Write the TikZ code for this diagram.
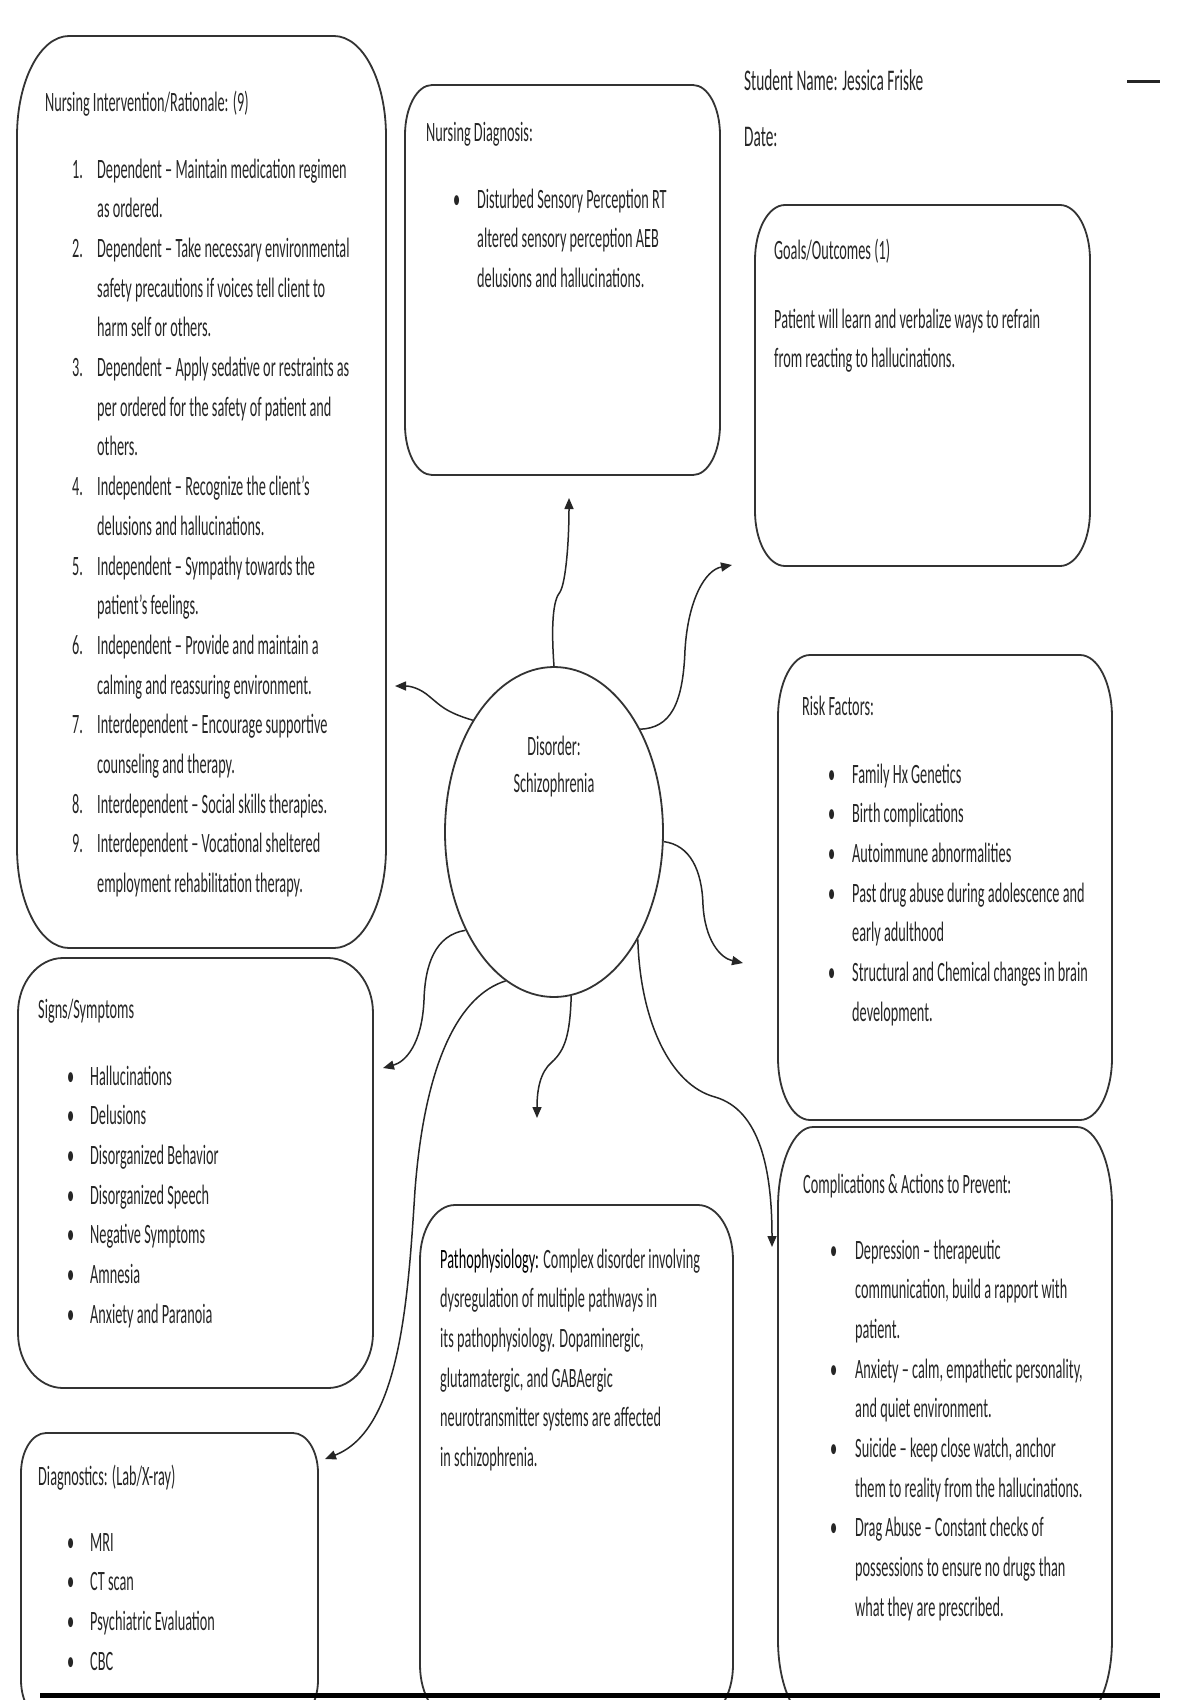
\documentclass[tikz,border=0pt]{standalone}
\usepackage{fontspec}
\setmainfont{Carlito}[FakeStretch=0.51]
\usetikzlibrary{shapes.geometric,arrows.meta}
\newcommand\rrbox[6]{%
  \draw[boxline] (#1,#2+#6) arc[start angle=180,end angle=270,x radius=#5,y radius=#6]
    -- (#3-#5,#2) arc[start angle=270,end angle=360,x radius=#5,y radius=#6]
    -- (#3,#4-#6) arc[start angle=0,end angle=90,x radius=#5,y radius=#6]
    -- (#1+#5,#4) arc[start angle=90,end angle=180,x radius=#5,y radius=#6] -- cycle;}
\newcommand\ind[1]{\makebox[#1][l]{}}
\tikzset{
  boxline/.style={draw=black!80, line width=1.8pt},
  txt/.style={anchor=base west, inner sep=0pt, text=black!85, font=\fontsize{28}{39.7}\selectfont},
  hdr/.style={anchor=base west, inner sep=0pt, text=black!85, font=\fontsize{30}{40}\selectfont},
  conn/.style={draw=black!85, line width=1.5pt, -{Triangle[length=11pt,width=9pt]}},
}
\begin{document}
\begin{tikzpicture}[x=1pt,y=-1pt]
\useasboundingbox (0,0) rectangle (1200,1700);
\fill[white] (0,0) rectangle (1200,1700);
\clip (0,0) rectangle (1200,1700);

% boxes
\rrbox{17}{36}{386}{948}{52}{100}
\rrbox{405}{85}{720}{475}{27}{50}
\rrbox{755}{205}{1090}{566}{30}{55}
\rrbox{778}{655}{1112}{1120}{32}{62}
\rrbox{778}{1127}{1112}{1720}{35}{80}
\rrbox{18}{958}{373}{1388}{45}{55}
\rrbox{21}{1433}{318}{1720}{25}{40}
\rrbox{420}{1205}{733}{1720}{35}{55}

% header
\node[hdr] (sname) at (744,90) {Student Name: Jessica Friske};
\node[hdr] (sdate) at (744,146) {Date:};
\draw[black!85, line width=3pt] (1127,81) -- (1160,81);

% central ellipse
\node[ellipse, draw=black!80, line width=1.8pt, minimum width=218pt, minimum height=330pt, inner sep=0pt] (dis) at (554,832) {};
\node[txt, anchor=base] (distxt) at (554,755) {\begin{tabular}[t]{@{}c@{}}Disorder:\\[-2pt] Schizophrenia\end{tabular}};

% Nursing intervention
\node[txt] (nit) at (45,111) {Nursing Intervention/Rationale: (9)};
\node[txt] (nil) at (72,178) {\begin{tabular}[t]{@{}l@{}}
\makebox[25pt][l]{1.}Dependent – Maintain medication regimen\\
\ind{25pt}as ordered.\\
\makebox[25pt][l]{2.}Dependent – Take necessary environmental\\
\ind{25pt}safety precautions if voices tell client to\\
\ind{25pt}harm self or others.\\
\makebox[25pt][l]{3.}Dependent – Apply sedative or restraints as\\
\ind{25pt}per ordered for the safety of patient and\\
\ind{25pt}others.\\
\makebox[25pt][l]{4.}Independent – Recognize the client’s\\
\ind{25pt}delusions and hallucinations.\\
\makebox[25pt][l]{5.}Independent – Sympathy towards the\\
\ind{25pt}patient’s feelings.\\
\makebox[25pt][l]{6.}Independent – Provide and maintain a\\
\ind{25pt}calming and reassuring environment.\\
\makebox[25pt][l]{7.}Interdependent – Encourage supportive\\
\ind{25pt}counseling and therapy.\\
\makebox[25pt][l]{8.}Interdependent – Social skills therapies.\\
\makebox[25pt][l]{9.}Interdependent – Vocational sheltered\\
\ind{25pt}employment rehabilitation therapy.
\end{tabular}};

% Nursing diagnosis
\node[txt] (ndt) at (426,141) {Nursing Diagnosis:};
\node[txt] (ndl) at (453,208) {\begin{tabular}[t]{@{}l@{}}
\makebox[24pt][l]{•}Disturbed Sensory Perception RT\\
\ind{24pt}altered sensory perception AEB\\
\ind{24pt}delusions and hallucinations.
\end{tabular}};

% Goals
\node[txt] (got) at (774,259) {Goals/Outcomes (1)};
\node[txt] (gol) at (774,328) {\begin{tabular}[t]{@{}l@{}}
Patient will learn and verbalize ways to refrain\\
from reacting to hallucinations.
\end{tabular}};

% Risk factors
\node[txt] (rft) at (802,715) {Risk Factors:};
\node[txt] (rfl) at (828,783) {\begin{tabular}[t]{@{}l@{}}
\makebox[24pt][l]{•}Family Hx Genetics\\
\makebox[24pt][l]{•}Birth complications\\
\makebox[24pt][l]{•}Autoimmune abnormalities\\
\makebox[24pt][l]{•}Past drug abuse during adolescence and\\
\ind{24pt}early adulthood\\
\makebox[24pt][l]{•}Structural and Chemical changes in brain\\
\ind{24pt}development.
\end{tabular}};

% Complications
\node[txt] (cot) at (803,1193) {Complications \& Actions to Prevent:};
\node[txt] (col) at (830,1259) {\begin{tabular}[t]{@{}l@{}}
\makebox[25pt][l]{•}Depression – therapeutic\\
\ind{25pt}communication, build a rapport with\\
\ind{25pt}patient.\\
\makebox[25pt][l]{•}Anxiety – calm, empathetic personality,\\
\ind{25pt}and quiet environment.\\
\makebox[25pt][l]{•}Suicide – keep close watch, anchor\\
\ind{25pt}them to reality from the hallucinations.\\
\makebox[25pt][l]{•}Drag Abuse – Constant checks of\\
\ind{25pt}possessions to ensure no drugs than\\
\ind{25pt}what they are prescribed.
\end{tabular}};

% Signs / symptoms
\node[txt] (sst) at (38,1018) {Signs/Symptoms};
\node[txt] (ssl) at (67,1085) {\begin{tabular}[t]{@{}l@{}}
\makebox[23pt][l]{•}Hallucinations\\
\makebox[23pt][l]{•}Delusions\\
\makebox[23pt][l]{•}Disorganized Behavior\\
\makebox[23pt][l]{•}Disorganized Speech\\
\makebox[23pt][l]{•}Negative Symptoms\\
\makebox[23pt][l]{•}Amnesia\\
\makebox[23pt][l]{•}Anxiety and Paranoia
\end{tabular}};

% Diagnostics
\node[txt] (dgt) at (38,1485) {Diagnostics: (Lab/X-ray)};
\node[txt] (dgl) at (67,1551) {\begin{tabular}[t]{@{}l@{}}
\makebox[23pt][l]{•}MRI\\
\makebox[23pt][l]{•}CT scan\\
\makebox[23pt][l]{•}Psychiatric Evaluation\\
\makebox[23pt][l]{•}CBC
\end{tabular}};

% Pathophysiology
\node[txt] (pat) at (440,1268) {\begin{tabular}[t]{@{}l@{}}
\textcolor{black}{Pathophysiology:} Complex disorder involving\\
dysregulation of multiple pathways in\\
its pathophysiology. Dopaminergic,\\
glutamatergic, and GABAergic\\
neurotransmitter systems are affected\\
in schizophrenia.
\end{tabular}};

% connector end points
\coordinate (tND) at (569,498);
\coordinate (tGoal) at (732,565);
\coordinate (tNI) at (395,686);
\coordinate (tRisk) at (743,963);
\coordinate (tSign) at (383,1068);
\coordinate (tDiag) at (325,1459);
\coordinate (tPatho) at (537,1118);
\coordinate (tComp) at (772,1247);

% connectors
\draw[conn] (dis.north) .. controls (551,625) and (553,600) .. (560,592) .. controls (566,582) and (569,540) .. (tND);
\draw[conn] (dis.50) .. controls (670,728) and (683,705) .. (685,650) .. controls (688,600) and (705,570) .. (tGoal);
\draw[conn] (dis.126) .. controls (445,712) and (440,705) .. (430,697) .. controls (420,688) and (410,686) .. (tNI);
\draw[conn] (dis.-5) .. controls (690,845) and (702,870) .. (703,905) .. controls (705,940) and (720,958) .. (tRisk);
\draw[conn] (dis.228) .. controls (435,935) and (425,965) .. (424,1000) .. controls (422,1045) and (405,1062) .. (tSign);
\draw[conn] (dis.252) .. controls (460,995) and (425,1060) .. (415,1190) .. controls (408,1300) and (400,1430) .. (tDiag);
\draw[conn] (dis.276) .. controls (570,1035) and (565,1050) .. (552,1062) .. controls (540,1072) and (537,1090) .. (tPatho);
\draw[conn] (dis.308) .. controls (640,1020) and (670,1085) .. (715,1097) .. controls (760,1110) and (772,1170) .. (tComp);

% bottom rule
\draw[black, line width=5pt] (40,1695) -- (1160,1695);
\end{tikzpicture}
\end{document}
